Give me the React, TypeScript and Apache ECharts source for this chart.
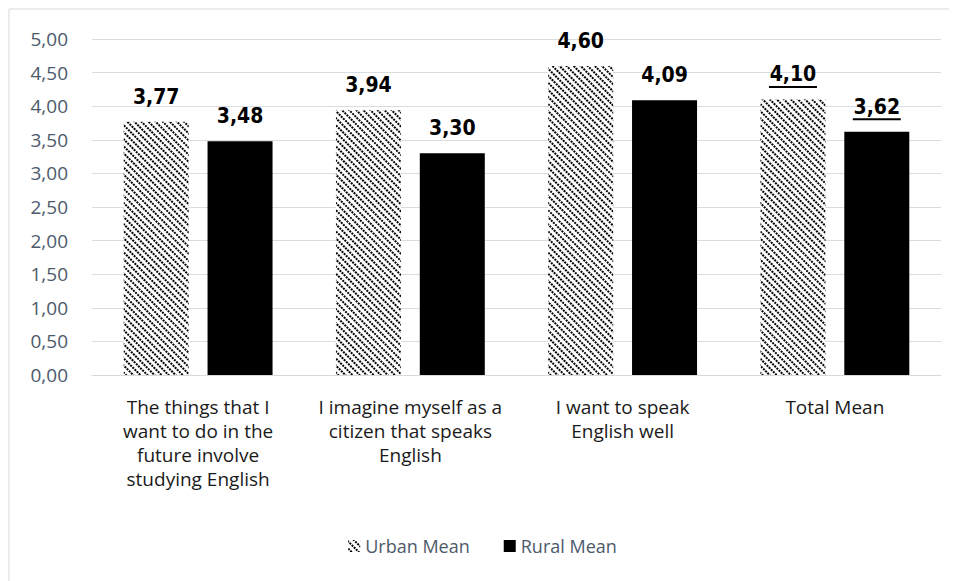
import React, { useEffect, useRef } from "react";
import * as echarts from "echarts";

const categories = [
  "The things that I\nwant to do in the\nfuture involve\nstudying English",
  "I imagine myself as a\ncitizen that speaks\nEnglish",
  "I want to speak\nEnglish well",
  "Total Mean",
];
const urbanMean = [3.77, 3.94, 4.6, 4.1];
const ruralMean = [3.48, 3.3, 4.09, 3.62];
const seriesNames = ["Urban Mean", "Rural Mean"];
const underlinedIndex = 3;

const fmt = (v: number) => v.toFixed(2).replace(".", ",");

export default function App() {
  const ref = useRef<HTMLDivElement>(null);
  useEffect(() => {
    if (!ref.current) return;
    const chart = echarts.init(ref.current, undefined, { renderer: "svg" });
    const labelFont = "'DejaVu Sans Condensed', 'DejaVu Sans', sans-serif";
    const textFont = "'Open Sans', sans-serif";
    const rich = {
      v: { fontFamily: labelFont, fontWeight: "bold", fontSize: 21, color: "#000", lineHeight: 22 },
      ul: { width: 48, height: 2, lineHeight: 3, backgroundColor: "#000" },
    };
    const makeData = (arr: number[]) =>
      arr.map((v, i) =>
        i === underlinedIndex
          ? { value: v, label: { formatter: `{v|${fmt(v)}}\n{ul|}`, offset: [0, 3] } }
          : { value: v }
      );
    const decal = {
      symbol: "rect",
      symbolSize: 1,
      color: "#000",
      backgroundColor: "#fff",
      dashArrayX: [2, 1],
      dashArrayY: [1.5, 2.5],
      rotation: Math.PI / 4,
    };
    chart.setOption({
      animation: false,
      backgroundColor: "#fff",
      graphic: [
        {
          type: "rect",
          shape: { x: 1, y: 1, width: 2000, height: 2000 },
          style: { fill: "none", stroke: "#d9d9d9", lineWidth: 1 },
          silent: true,
        },
      ],
      grid: { left: 84, right: 16, top: 31, bottom: 206 },
      legend: {
        bottom: 21,
        left: "center",
        icon: "rect",
        itemWidth: 12,
        itemHeight: 12,
        itemGap: 34,
        textStyle: { fontFamily: textFont, fontSize: 18, color: "#4d5a6b" },
        data: seriesNames,
      },
      xAxis: {
        type: "category",
        data: categories,
        axisLine: { show: true, lineStyle: { color: "#d9d9d9" } },
        axisTick: { show: false },
        axisLabel: {
          interval: 0,
          margin: 20,
          fontFamily: textFont,
          fontSize: 19,
          lineHeight: 24,
          color: "#1a1a1a",
        },
      },
      yAxis: {
        type: "value",
        min: 0,
        max: 5,
        interval: 0.5,
        axisLine: { show: false },
        axisTick: { show: false },
        splitLine: { lineStyle: { color: "#d9dde3" } },
        axisLabel: {
          formatter: (v: number) => fmt(v),
          margin: 24,
          fontFamily: textFont,
          fontSize: 19,
          color: "#4d5a6b",
        },
      },
      series: [
        {
          name: seriesNames[0],
          type: "bar",
          data: makeData(urbanMean),
          barWidth: 65,
          barGap: "29%",
          itemStyle: { color: "#fff", decal },
          label: {
            show: true,
            position: "top",
            distance: 14,
            formatter: (p: any) => `{v|${fmt(p.value)}}`,
            rich,
          },
        },
        {
          name: seriesNames[1],
          type: "bar",
          data: makeData(ruralMean),
          barWidth: 65,
          itemStyle: { color: "#000" },
          label: {
            show: true,
            position: "top",
            distance: 14,
            formatter: (p: any) => `{v|${fmt(p.value)}}`,
            rich,
          },
        },
      ],
    });
    return () => chart.dispose();
  }, []);
  return <div ref={ref} style={{ width: 949, height: 573 }} />;
}
